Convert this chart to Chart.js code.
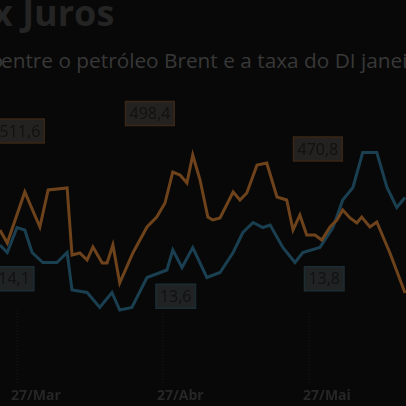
<!DOCTYPE html><html><head><meta charset="utf-8">
<script src="https://cdn.jsdelivr.net/npm/chart.js@4"></script>
<style>
html,body{margin:0;padding:0;background:#080808;overflow:hidden;width:406px;height:406px}
#t{position:absolute;left:-8px;top:-12px;font:bold 36px 'Open Sans',sans-serif;color:#242424;white-space:nowrap}
#s1{position:absolute;right:403px;top:46px;font:20.8px 'Open Sans',sans-serif;color:#383838;white-space:nowrap}
#s2{position:absolute;left:1px;top:46px;font:20.8px 'Open Sans',sans-serif;color:#383838;white-space:nowrap}
#w{position:absolute;left:0;top:0;width:406px;height:406px}
</style></head><body>
<div id="t">x Juros</div>
<div id="s1">Relação</div><div id="s2">entre o petróleo Brent e a taxa do DI janeiro</div>
<div id="w"><canvas id="c" width="406" height="406"></canvas></div>
<script>
const brentDays=[-3.5,-2,1.6,4.7,6.4,10.3,11.3,12.9,14.4,15.6,17.5,18.5,19.7,21.1,23.8,26.7,28.7,30.4,32,33.5,34.9,36.1,37.6,39.2,40.2,41.7,44.4,45.8,47.2,49.3,51.3,53.4,55.4,56.7,58.1,59.5,61.2,62.6,64.3,65.7,66.9,68.4,69.8,70.8,72.5,73.9,76.6,79.7];
const brentValues=[472,466.8,487.2,473.2,488,488.8,462,462.8,460,465.2,458.8,458.8,466,450.8,462.8,473.2,477.2,482.8,495.2,494,490.8,502,492,477.2,476,476.8,487.2,484,486.8,498,498.8,485.2,484,472,478,470,470,468,473.2,476,480,476.8,474.8,477.2,473.2,475.2,462.8,446.8];
const diDays=[-3.5,-2,0,1.6,3.1,5.3,8.2,10.3,11.3,14.4,17,19.5,21.1,23.6,26.7,30.8,32,33.9,36.1,39,41.7,44.4,46.4,48.5,50.5,52,54.6,57.1,58.7,62.2,64.9,66.9,69,71,73.9,76,78,79.7];
const diValues=[14.1,14.04,14.24,14.22,14.04,13.96,13.96,14.04,13.74,13.72,13.6,13.72,13.58,13.6,13.84,13.9,14.06,13.92,14.08,13.84,13.88,14.04,14.2,14.28,14.24,14.26,14.08,13.96,14.04,14.08,14.24,14.46,14.56,14.84,14.84,14.56,14.4,14.48];
const tickDays=[0,30,60];
const tickLabels=['27/Mar','27/Abr','27/Mai'];
const brentLabels=[{d:0.6,v:511.6,t:'511,6'},{d:27.3,v:518.6,t:'498,4'},{d:61.8,v:504.4,t:'470,8'}];
const diLabels=[{d:-0.6,v:13.83,t:'14,1'},{d:32.6,v:13.69,t:'13,6'},{d:63.1,v:13.83,t:'13,8'}];
const annot={id:'annot',afterDatasetsDraw(ch){
 const c=ch.ctx,x=ch.scales.x,yb=ch.scales.yb,yd=ch.scales.yd;
 c.save();
 c.strokeStyle='#1a1a1a';c.setLineDash([1,2]);c.lineWidth=1;
 tickDays.forEach((d,i)=>{const px=x.getPixelForValue(d);c.beginPath();c.moveTo(px,310);c.lineTo(px,384);c.stroke();
  c.fillStyle='#262626';c.font="bold 14px 'Open Sans',sans-serif";c.textBaseline='middle';c.fillText(tickLabels[i],px-6,396);});
 c.setLineDash([]);
 c.font="16px 'Open Sans',sans-serif";c.textAlign='center';c.textBaseline='middle';
 const box=(l,sc,bg,bd)=>{const px=x.getPixelForValue(l.d),py=sc.getPixelForValue(l.v);const w=c.measureText(l.t).width+8;
  c.fillStyle=bg;c.fillRect(px-w/2,py-12,w,24);c.strokeStyle=bd;c.lineWidth=1.5;c.strokeRect(px-w/2,py-12,w,24);c.fillStyle='#111';c.fillText(l.t,px,py+1);};
 brentLabels.forEach(l=>box(l,yb,'#242220','#3a2616'));
 diLabels.forEach(l=>box(l,yd,'#1f2323','#1c2c33'));
 c.restore();}};
new Chart(document.getElementById('c'),{type:'line',
 data:{datasets:[
  {data:brentDays.map((d,i)=>({x:d,y:brentValues[i]})),borderColor:'#6e431c',borderWidth:3,pointRadius:0,tension:0,yAxisID:'yb'},
  {data:diDays.map((d,i)=>({x:d,y:diValues[i]})),borderColor:'#1a3f50',borderWidth:3,pointRadius:0,tension:0,yAxisID:'yd'}]},
 options:{responsive:false,animation:false,events:[],layout:{padding:{bottom:21}},
  plugins:{legend:{display:false},tooltip:{enabled:false}},
  scales:{x:{type:'linear',min:-3.49,max:79.9,display:false},
   yb:{min:410,max:564,display:false},yd:{min:12.98,max:16.06,display:false}}},
 plugins:[annot]});
</script></body></html>
